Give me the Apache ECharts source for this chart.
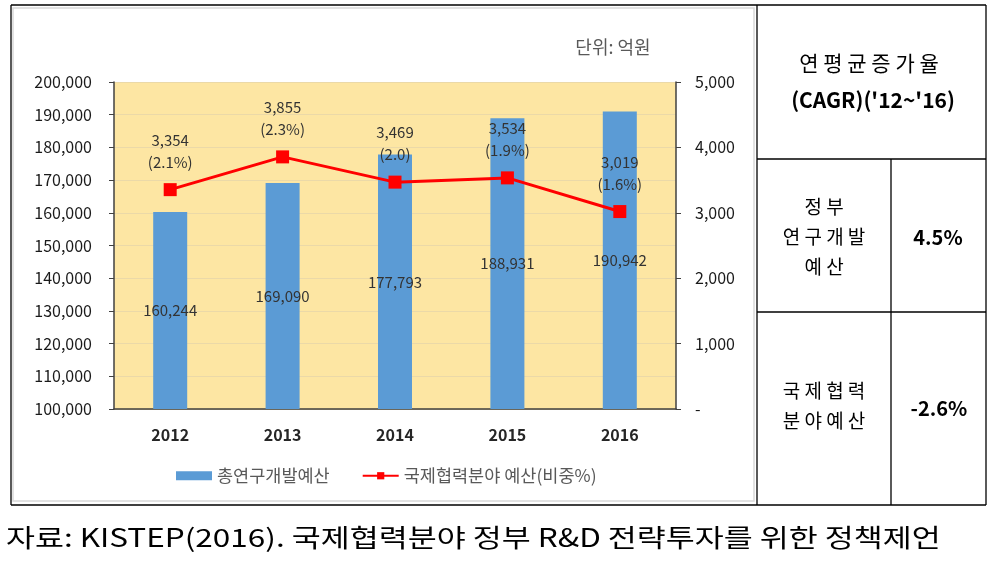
<!DOCTYPE html>
<html><head><meta charset="utf-8">
<script src="https://cdn.jsdelivr.net/npm/echarts@6/dist/echarts.min.js"></script>
<style>html,body{margin:0;padding:0;background:#fff}#c{width:998px;height:563px}</style>
</head><body><div id="c"></div>
<script>
const categories = ['2012','2013','2014','2015','2016'];
const totalRnd = [160244,169090,177793,188931,190942];
const intlBudget = [3354,3855,3469,3534,3019];
const intlShare = ['(2.1%)','(2.3%)','(2.0)','(1.9%)','(1.6%)'];
const leftTicks = {min:100000,max:200000,interval:10000};
const rightTicks = {min:0,max:5000,interval:1000};
const seriesNames = ['총연구개발예산','국제협력분야 예산(비중%)'];

const F = '"Noto Sans CJK KR","Noto Sans",sans-serif';
const fmt = v => v.toLocaleString('en-US');
const chart = echarts.init(document.getElementById('c'));
const line = (x1,y1,x2,y2,c,w) => ({type:'line',shape:{x1,y1,x2,y2},style:{stroke:c||'#000',lineWidth:w||1.3},silent:true});
const txt = (x,y,t,o,extra) => Object.assign({type:'text',x,y,style:Object.assign({text:t,fill:'#000',font:'19px '+F,textAlign:'center',textVerticalAlign:'middle'},o||{}),silent:true},extra||{});

chart.setOption({
  animation:false,
  textStyle:{fontFamily:F},
  grid:{left:114,right:322,top:82,bottom:154,show:true,backgroundColor:'#FDE6A3',borderWidth:0},
  legend:{
    left:171, top:462,
    itemWidth:36,itemHeight:9,itemGap:32,
    textStyle:{color:'#595959',fontSize:17.5,fontFamily:F},
    data:[{name:seriesNames[0],icon:'rect'},{name:seriesNames[1]}]
  },
  xAxis:{type:'category',data:categories,
    axisLine:{lineStyle:{color:'#404040',width:1.5}},axisTick:{show:false},
    axisLabel:{color:'#262626',fontSize:16,fontWeight:'bold',margin:18}},
  yAxis:[
    {type:'value',min:leftTicks.min,max:leftTicks.max,interval:leftTicks.interval,
      axisLine:{show:true,lineStyle:{color:'#404040',width:1.5}},
      axisTick:{show:true,length:5,lineStyle:{color:'#404040'}},
      axisLabel:{color:'#1a1a1a',fontSize:16,formatter:v=>fmt(v),margin:22},
      splitLine:{show:true,lineStyle:{color:'#EBD9A8',width:1}}},
    {type:'value',min:rightTicks.min,max:rightTicks.max,interval:rightTicks.interval,position:'right',
      axisLine:{show:true,lineStyle:{color:'#404040',width:1.5}},
      axisTick:{show:true,length:5,inside:false,lineStyle:{color:'#404040'}},
      axisLabel:{color:'#1a1a1a',fontSize:16,formatter:v=>v===0?'-':fmt(v),margin:19},
      splitLine:{show:false}}
  ],
  series:[
    {name:seriesNames[0],type:'bar',data:totalRnd,barWidth:34,yAxisIndex:0,
      itemStyle:{color:'#5B9BD5'},
      label:{show:true,position:'inside',color:'#333',fontSize:15,formatter:p=>fmt(p.value)}},
    {name:seriesNames[1],type:'line',data:intlBudget,yAxisIndex:1,
      lineStyle:{color:'#FF0000',width:3},itemStyle:{color:'#FF0000'},
      symbol:'rect',symbolSize:13,
      label:{show:true,position:'top',distance:10,color:'#333',fontSize:15,lineHeight:22,
        formatter:p=>fmt(p.value)+'\n'+intlShare[p.dataIndex]}}
  ],
  graphic:[
    {type:'rect',shape:{x:13,y:8,width:741,height:493},style:{fill:'none',stroke:'#d9d9d9',lineWidth:1.5},silent:true,z:-1},
    txt(613,47,'단위: 억원',{fill:'#595959',font:'18px '+F}),
    line(11,5,986,5), line(11,505,986,505), line(11,5,11,505), line(986,5,986,505),
    line(757,5,757,505), line(757,159,986,159), line(757,312,986,312), line(891,159,891,505),
    txt(869,63,'연 평 균 증 가 율',{font:'21px '+F}),
    txt(873,100,"(CAGR)('12~'16)",{font:'bold 21px '+F}),
    txt(824,207,'정 부'), txt(824,237,'연 구 개 발'), txt(824,267,'예 산'),
    txt(938,237,'4.5%',{font:'bold 20px '+F}),
    txt(824,391,'국 제 협 력'), txt(824,421,'분 야 예 산'),
    txt(939,408,'-2.6%',{font:'bold 20px '+F}),
    txt(8,537,'자료: KISTEP(2016). 국제협력분야 정부 R&D 전략투자를 위한 정책제언',{textAlign:'left',font:'25px '+F},{scaleX:1.26,originX:8,originY:537})
  ]
});
</script></body></html>
